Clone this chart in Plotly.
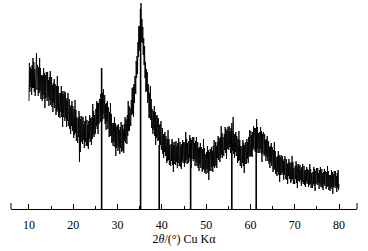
import numpy as np
import plotly.graph_objects as go

# 2-theta grid, 0.1 deg step, 10..80
two_theta = np.round(np.linspace(10.0, 80.0, 701), 2)

# intensity (arbitrary units), 10 values per degree
intensity = [
    108, 146, 117, 142, 122, 140, 114, 144, 121, 151,   # 10
    121, 147, 117, 140, 113, 143, 123, 156, 119, 144,   # 11
    140, 113, 142, 116, 151, 118, 141, 110, 134, 113,   # 12
    108, 134, 114, 141, 110, 136, 101, 134, 111, 137,   # 13
    134, 108, 137, 112, 129, 103, 132, 109, 138, 104,   # 14
    107, 132, 102, 124, 97, 126, 106, 130, 101, 125,    # 15
    121, 94, 123, 97, 133, 99, 123, 92, 116, 95,        # 16
    91, 116, 97, 123, 92, 118, 82, 115, 92, 118,        # 17
    114, 88, 117, 91, 109, 82, 111, 88, 116, 83,        # 18
    85, 110, 80, 102, 75, 104, 83, 108, 78, 103,        # 19
    98, 71, 100, 74, 109, 76, 99, 68, 92, 71,           # 20
    66, 91, 72, 98, 47, 93, 57, 90, 67, 93,             # 21
    88, 65, 92, 69, 85, 61, 88, 67, 93, 63,             # 22
    65, 89, 63, 84, 60, 88, 70, 94, 67, 91,             # 23
    87, 64, 92, 70, 105, 74, 98, 72, 94, 77,            # 24
    75, 100, 83, 108, 80, 106, 75, 106, 85, 110,        # 25
    109, 87, 115, 93, 111, 88, 116, 95, 120, 90,        # 26
    91, 114, 85, 105, 79, 106, 87, 108, 80, 102,        # 27
    97, 72, 97, 73, 106, 73, 95, 66, 86, 67,            # 28
    63, 86, 67, 92, 62, 86, 53, 82, 61, 84,             # 29
    81, 58, 85, 62, 79, 55, 82, 61, 87, 57,             # 30
    59, 84, 58, 80, 56, 85, 68, 92, 66, 90,             # 31
    87, 65, 94, 73, 108, 78, 103, 78, 101, 84,          # 32
    83, 109, 94, 121, 95, 122, 92, 125, 106, 133,       # 33
    133, 115, 148, 131, 153, 135, 167, 152, 183, 158,   # 34
    183, 165, 196, 206, 167, 190, 166, 182, 154, 171,   # 35
    144, 163, 131, 147, 117, 140, 118, 137, 106, 125,   # 36
    117, 91, 116, 91, 123, 89, 110, 81, 100, 80,        # 37
    75, 98, 79, 103, 73, 97, 64, 93, 71, 94,            # 38
    90, 68, 91, 69, 84, 61, 85, 64, 88, 59,             # 39
    60, 81, 55, 75, 51, 75, 57, 77, 53, 73,             # 40
    69, 46, 70, 48, 79, 49, 70, 44, 64, 46,             # 41
    43, 65, 48, 70, 44, 67, 37, 64, 45, 67,             # 42
    65, 44, 68, 47, 63, 41, 66, 46, 71, 43,             # 43
    45, 67, 42, 63, 40, 65, 48, 69, 46, 67,             # 44
    64, 42, 67, 46, 77, 49, 70, 45, 66, 49,             # 45
    46, 68, 51, 74, 48, 71, 41, 69, 50, 72,             # 46
    70, 48, 72, 50, 66, 43, 68, 47, 72, 43,             # 47
    45, 67, 41, 61, 38, 62, 45, 66, 41, 62,             # 48
    59, 37, 60, 39, 70, 40, 61, 36, 55, 38,             # 49
    35, 57, 40, 63, 36, 59, 29, 57, 38, 60,             # 50
    58, 38, 62, 42, 58, 37, 63, 43, 69, 41,             # 51
    44, 67, 43, 63, 41, 67, 51, 73, 49, 71,             # 52
    69, 47, 72, 51, 83, 54, 76, 51, 72, 55,             # 53
    53, 75, 59, 82, 56, 80, 50, 78, 60, 82,             # 54
    80, 59, 83, 62, 78, 56, 81, 61, 86, 58,             # 55
    60, 92, 55, 75, 51, 75, 57, 77, 53, 73,             # 56
    69, 46, 70, 48, 78, 49, 69, 43, 63, 45,             # 57
    41, 63, 46, 69, 43, 66, 36, 64, 45, 67,             # 58
    65, 45, 70, 50, 67, 46, 72, 53, 79, 52,             # 59
    55, 78, 53, 74, 52, 77, 61, 83, 59, 81,             # 60
    79, 57, 81, 59, 90, 61, 82, 56, 76, 59,             # 61
    56, 77, 60, 82, 56, 78, 47, 75, 55, 77,             # 62
    73, 53, 75, 55, 69, 48, 70, 52, 73, 48,             # 63
    49, 68, 45, 62, 41, 63, 47, 66, 43, 62,             # 64
    58, 37, 59, 39, 67, 40, 58, 35, 52, 37,             # 65
    33, 53, 37, 58, 34, 54, 27, 52, 34, 54,             # 66
    51, 34, 53, 36, 48, 29, 50, 34, 53, 30,             # 67
    32, 50, 29, 45, 25, 46, 33, 50, 30, 47,             # 68
    44, 26, 46, 28, 53, 30, 47, 25, 41, 28,             # 69
    25, 43, 30, 48, 26, 45, 21, 43, 28, 45,             # 70
    42, 27, 44, 29, 40, 23, 42, 27, 45, 25,             # 71
    27, 43, 24, 39, 22, 39, 27, 42, 25, 40,             # 72
    38, 22, 39, 24, 45, 25, 40, 21, 36, 24,             # 73
    21, 37, 25, 42, 23, 40, 18, 38, 25, 41,             # 74
    39, 24, 41, 26, 36, 20, 39, 24, 42, 22,             # 75
    24, 40, 21, 36, 19, 37, 25, 40, 23, 38,             # 76
    36, 20, 37, 22, 43, 23, 38, 19, 34, 22,             # 77
    18, 34, 22, 39, 20, 37, 15, 35, 22, 38,             # 78
    36, 21, 38, 23, 33, 17, 36, 21, 39, 19,             # 79
    25,                                                 # 80
]

# reference pattern sticks
stick_pos = [26.4, 35.2, 39.4, 46.5, 55.8, 61.3]
stick_height = [141, 200, 64, 66, 78, 80]

x_ticks = [10, 20, 30, 40, 50, 60, 70, 80]
x_minor = [15, 25, 35, 45, 55, 65, 75]

fig = go.Figure()
fig.add_trace(go.Scatter(
    x=two_theta, y=intensity, mode="lines",
    line=dict(color="black", width=0.9), hoverinfo="skip", showlegend=False))

sx, sy = [], []
for p, h in zip(stick_pos, stick_height):
    sx += [p, p, None]
    sy += [0, h, None]
fig.add_trace(go.Scatter(
    x=sx, y=sy, mode="lines",
    line=dict(color="black", width=1.6), hoverinfo="skip", showlegend=False))

# end ticks of the axis frame
for xe in [0, 1]:
    fig.add_shape(type="line", xref="paper", yref="paper",
                  x0=xe, x1=xe, y0=0, y1=6 / 209,
                  line=dict(color="black", width=1))

fig.update_layout(
    width=368, height=251,
    margin=dict(l=11, r=11, t=0, b=42),
    paper_bgcolor="white", plot_bgcolor="white",
    font=dict(family="Liberation Serif", size=12, color="black"),
    xaxis=dict(
        range=[5.94, 84.06], tickvals=x_ticks, ticktext=[str(v) for v in x_ticks],
        ticks="inside", ticklen=5, tickwidth=1, tickcolor="black",
        minor=dict(tickvals=x_minor, ticks="inside", ticklen=3,
                   tickwidth=1, tickcolor="black"),
        showline=True, linecolor="black", linewidth=1,
        showgrid=False, zeroline=False,
        tickfont=dict(family="Liberation Serif", size=12),
        ticklabelstandoff=5,
        title=dict(text="2<i>θ</i>/(°) Cu Kα",
                   font=dict(family="Liberation Serif", size=12), standoff=3),
    ),
    yaxis=dict(range=[0, 209], visible=False, showgrid=False, zeroline=False),
)

fig.write_html("out.html", config={"displayModeBar": False},
               post_script="document.body.style.margin='0';")
